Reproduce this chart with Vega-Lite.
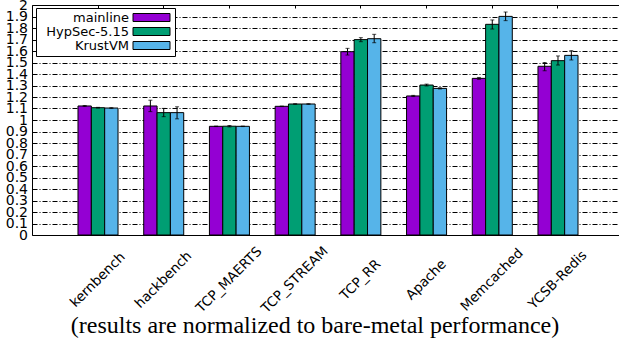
{
  "$schema": "https://vega.github.io/schema/vega-lite/v6.json",
  "width": 592,
  "height": 230,
  "autosize": {"type": "none"},
  "padding": {"left": 32, "top": 5, "right": 0, "bottom": 111},
  "background": "white",
  "config": {
    "view": {"stroke": "black", "strokeWidth": 1},
    "font": "DejaVu Sans",
    "axisY": {
      "domain": false,
      "ticks": false,
      "labelPadding": 4.5,
      "labelOverlap": false,
      "labelFont": "DejaVu Sans",
      "labelFontSize": 14,
      "labelColor": "black",
      "grid": true,
      "gridColor": "black",
      "gridDash": [5, 2, 1, 2],
      "gridWidth": 1
    }
  },
  "data": {
    "values": [
      {"benchmark": "kernbench", "config": "mainline", "value": 1.122, "lo": 1.118, "hi": 1.126},
      {"benchmark": "kernbench", "config": "HypSec-5.15", "value": 1.107, "lo": 1.104, "hi": 1.110},
      {"benchmark": "kernbench", "config": "KrustVM", "value": 1.104, "lo": 1.101, "hi": 1.107},
      {"benchmark": "hackbench", "config": "mainline", "value": 1.122, "lo": 1.073, "hi": 1.172},
      {"benchmark": "hackbench", "config": "HypSec-5.15", "value": 1.064, "lo": 1.029, "hi": 1.101},
      {"benchmark": "hackbench", "config": "KrustVM", "value": 1.064, "lo": 1.010, "hi": 1.115},
      {"benchmark": "TCP_MAERTS", "config": "mainline", "value": 0.945, "lo": 0.943, "hi": 0.947},
      {"benchmark": "TCP_MAERTS", "config": "HypSec-5.15", "value": 0.946, "lo": 0.940, "hi": 0.952},
      {"benchmark": "TCP_MAERTS", "config": "KrustVM", "value": 0.945, "lo": 0.943, "hi": 0.947},
      {"benchmark": "TCP_STREAM", "config": "mainline", "value": 1.119, "lo": 1.117, "hi": 1.121},
      {"benchmark": "TCP_STREAM", "config": "HypSec-5.15", "value": 1.139, "lo": 1.137, "hi": 1.141},
      {"benchmark": "TCP_STREAM", "config": "KrustVM", "value": 1.139, "lo": 1.137, "hi": 1.141},
      {"benchmark": "TCP_RR", "config": "mainline", "value": 1.594, "lo": 1.565, "hi": 1.623},
      {"benchmark": "TCP_RR", "config": "HypSec-5.15", "value": 1.699, "lo": 1.681, "hi": 1.716},
      {"benchmark": "TCP_RR", "config": "KrustVM", "value": 1.707, "lo": 1.672, "hi": 1.745},
      {"benchmark": "Apache", "config": "mainline", "value": 1.209, "lo": 1.204, "hi": 1.214},
      {"benchmark": "Apache", "config": "HypSec-5.15", "value": 1.304, "lo": 1.296, "hi": 1.312},
      {"benchmark": "Apache", "config": "KrustVM", "value": 1.275, "lo": 1.270, "hi": 1.280},
      {"benchmark": "Memcached", "config": "mainline", "value": 1.362, "lo": 1.354, "hi": 1.370},
      {"benchmark": "Memcached", "config": "HypSec-5.15", "value": 1.832, "lo": 1.791, "hi": 1.870},
      {"benchmark": "Memcached", "config": "KrustVM", "value": 1.901, "lo": 1.864, "hi": 1.939},
      {"benchmark": "YCSB-Redis", "config": "mainline", "value": 1.467, "lo": 1.429, "hi": 1.501},
      {"benchmark": "YCSB-Redis", "config": "HypSec-5.15", "value": 1.516, "lo": 1.478, "hi": 1.557},
      {"benchmark": "YCSB-Redis", "config": "KrustVM", "value": 1.562, "lo": 1.522, "hi": 1.603}
    ]
  },
  "encoding": {
    "x": {
      "field": "benchmark",
      "type": "nominal",
      "sort": ["kernbench", "hackbench", "TCP_MAERTS", "TCP_STREAM", "TCP_RR", "Apache", "Memcached", "YCSB-Redis"],
      "scale": {"paddingInner": 0.391, "paddingOuter": 0.7},
      "axis": {
        "title": "(results are normalized to bare-metal performance)",
        "domain": false,
        "ticks": false,
        "labelAngle": -45,
        "labelAlign": "center",
        "labelBaseline": "alphabetic",
        "labelOffset": 2.6,
        "labelPadding": 47.3,
        "labelOverlap": false,
        "labelFont": "DejaVu Sans",
        "labelFontSize": 13.5,
        "labelColor": "black",
        "titleFont": "Liberation Serif",
        "titleFontSize": 24,
        "titleFontWeight": "normal",
        "titleColor": "black",
        "titleX": 282.5,
        "titleY": 97,
        "titleBaseline": "alphabetic",
        "titleAlign": "center"
      }
    },
    "xOffset": {
      "field": "config",
      "type": "nominal",
      "sort": ["mainline", "HypSec-5.15", "KrustVM"],
      "scale": {"paddingInner": 0, "paddingOuter": 0}
    }
  },
  "resolve": {"axis": {"x": "independent"}},
  "layer": [
    {
      "mark": {"type": "bar", "stroke": "black", "strokeWidth": 1},
      "encoding": {
        "y": {
          "field": "value",
          "type": "quantitative",
          "title": null,
          "scale": {"domain": [0, 2], "nice": false},
          "axis": {
            "values": [0, 0.1, 0.2, 0.3, 0.4, 0.5, 0.6, 0.7, 0.8, 0.9, 1, 1.1, 1.2, 1.3, 1.4, 1.5, 1.6, 1.7, 1.8, 1.9, 2],
            "format": ".1~f"
          }
        },
        "color": {
          "field": "config",
          "type": "nominal",
          "sort": ["mainline", "HypSec-5.15", "KrustVM"],
          "scale": {"domain": ["mainline", "HypSec-5.15", "KrustVM"], "range": ["#9400d3", "#009e73", "#56b4e9"]},
          "legend": {
            "title": null,
            "orient": "none",
            "legendX": 4,
            "legendY": 3,
            "fillColor": "white",
            "strokeColor": "black",
            "padding": 3,
            "cornerRadius": 0,
            "symbolType": "M-4.625,-1H4.625V1H-4.625Z",
            "symbolSize": 64,
            "symbolStrokeColor": "black",
            "symbolStrokeWidth": 1,
            "symbolOffset": 106,
            "labelAlign": "right",
            "labelOffset": -29,
            "labelFont": "DejaVu Sans",
            "labelFontSize": 13,
            "labelColor": "black",
            "labelLimit": 200,
            "rowPadding": 0
          }
        }
      }
    },
    {
      "mark": {"type": "rule", "color": "black", "strokeWidth": 1},
      "encoding": {
        "x": {
          "field": "benchmark",
          "type": "nominal",
          "sort": ["kernbench", "hackbench", "TCP_MAERTS", "TCP_STREAM", "TCP_RR", "Apache", "Memcached", "YCSB-Redis"],
          "axis": null
        },
        "y": {
          "field": "lo",
          "type": "quantitative",
          "title": null,
          "axis": {
            "values": [0, 0.1, 0.2, 0.3, 0.4, 0.5, 0.6, 0.7, 0.8, 0.9, 1, 1.1, 1.2, 1.3, 1.4, 1.5, 1.6, 1.7, 1.8, 1.9, 2],
            "format": ".1~f"
          }
        },
        "y2": {"field": "hi"}
      }
    },
    {
      "mark": {"type": "tick", "color": "black", "size": 4, "thickness": 1},
      "encoding": {
        "x": {
          "field": "benchmark",
          "type": "nominal",
          "sort": ["kernbench", "hackbench", "TCP_MAERTS", "TCP_STREAM", "TCP_RR", "Apache", "Memcached", "YCSB-Redis"],
          "axis": null
        },
        "y": {
          "field": "lo",
          "type": "quantitative",
          "title": null,
          "axis": {
            "values": [0, 0.1, 0.2, 0.3, 0.4, 0.5, 0.6, 0.7, 0.8, 0.9, 1, 1.1, 1.2, 1.3, 1.4, 1.5, 1.6, 1.7, 1.8, 1.9, 2],
            "format": ".1~f"
          }
        }
      }
    },
    {
      "mark": {"type": "tick", "color": "black", "size": 4, "thickness": 1},
      "encoding": {
        "x": {
          "field": "benchmark",
          "type": "nominal",
          "sort": ["kernbench", "hackbench", "TCP_MAERTS", "TCP_STREAM", "TCP_RR", "Apache", "Memcached", "YCSB-Redis"],
          "axis": {
            "orient": "top",
            "title": null,
            "labels": false,
            "domain": false,
            "ticks": true,
            "tickSize": -3,
            "tickColor": "black",
            "tickWidth": 1,
            "grid": false
          }
        },
        "y": {
          "field": "hi",
          "type": "quantitative",
          "title": null,
          "axis": {
            "values": [0, 0.1, 0.2, 0.3, 0.4, 0.5, 0.6, 0.7, 0.8, 0.9, 1, 1.1, 1.2, 1.3, 1.4, 1.5, 1.6, 1.7, 1.8, 1.9, 2],
            "format": ".1~f"
          }
        }
      }
    }
  ]
}
